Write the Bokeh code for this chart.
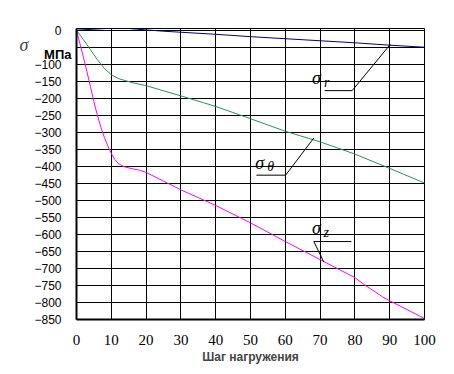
from bokeh.plotting import figure
from bokeh.models import Label, FixedTicker, LinearAxis
from bokeh.embed import file_html
from bokeh.resources import INLINE

# ---- data ----
steps_r = [0, 5, 10, 15, 20, 25, 30, 40, 50, 60, 70, 80, 90, 100]
sigma_r = [0, 3, 6, 5, 1, -3, -6, -12, -19, -25, -31, -37, -44, -50]

steps_t = [0, 2, 4, 6, 8, 10, 12, 14, 16, 20, 30, 40, 50, 60, 70, 80, 90, 100]
sigma_t = [0, -28, -57, -87, -112, -131, -142, -148, -154, -163, -193, -224,
           -260, -297, -328, -364, -406, -449]

steps_z = [0, 1, 2, 3, 4, 5, 6, 7, 8, 9, 10, 11, 12, 13, 14, 16, 18, 20,
           30, 40, 50, 60, 70, 80, 83, 86, 88, 90, 100]
sigma_z = [0, -40, -80, -122, -165, -210, -250, -285, -315, -340, -362, -380,
           -391, -398, -402, -407, -411, -418, -469, -515, -566, -621, -674,
           -727, -750, -770, -784, -795, -847]

x_ticks = [0, 10, 20, 30, 40, 50, 60, 70, 80, 90, 100]
y_ticks = list(range(0, -851, -50))
x_title = "Шаг нагружения"
y_symbol = "σ"
y_unit = "МПа"

W, H = 446, 366
p = figure(width=W, height=H, x_range=(0, 100), y_range=(-850, 5),
           output_backend="svg", toolbar_location=None,
           min_border_left=76, min_border_right=22, min_border_top=28,
           min_border_bottom=43)
p.background_fill_color = "white"
p.border_fill_color = "white"
p.outline_line_color = "black"
p.outline_line_width = 1

p.xaxis.ticker = FixedTicker(ticks=x_ticks)
p.yaxis.ticker = FixedTicker(ticks=y_ticks)
p.yaxis.major_label_overrides = {-50: ""}

for ax in (p.xaxis, p.yaxis):
    ax.axis_line_color = "black"
    ax.axis_line_width = 2
    ax.major_tick_line_color = None
    ax.minor_tick_line_color = None
    ax.major_label_text_color = "black"

p.xaxis.major_label_text_font = "Liberation Serif"
p.xaxis.major_label_text_font_size = "15px"
p.xaxis.major_label_standoff = 9
p.xaxis.axis_label = x_title
p.xaxis.axis_label_text_font = "Liberation Sans"
p.xaxis.axis_label_text_font_style = "bold"
p.xaxis.axis_label_text_font_size = "12px"
p.xaxis.axis_label_standoff = 2

p.yaxis.major_label_text_font = "Liberation Sans"
p.yaxis.major_label_text_font_size = "12px"
p.yaxis.major_label_standoff = 9
p.yaxis.axis_label = "\n" + y_symbol
p.yaxis.axis_label_orientation = "horizontal"
p.yaxis.axis_label_align = "end"
p.yaxis.axis_label_text_font = "Liberation Serif"
p.yaxis.axis_label_text_font_style = "italic"
p.yaxis.axis_label_text_font_size = "18px"
p.yaxis.axis_label_text_line_height = 1.6
p.yaxis.axis_label_standoff = 3

p.grid.grid_line_color = "black"
p.grid.grid_line_width = 1
p.grid.grid_line_alpha = 1.0

p.line(steps_r, sigma_r, line_color="#000080", line_width=1)
p.line(steps_t, sigma_t, line_color="#2a8f5e", line_width=1)
p.line(steps_z, sigma_z, line_color="#ff00ff", line_width=1)

# leader lines of the curve labels
p.line([71.3, 79.2, 90.2], [-177.6, -177.6, -41.4], line_color="black", line_width=1)
p.line([51.7, 60.1, 68.2], [-425.9, -425.9, -316.7], line_color="black", line_width=1)
p.line([68.2, 79.0], [-621, -621], line_color="black", line_width=1)
p.line([68.2, 71.1], [-621, -681.8], line_color="black", line_width=1)

def sig(x, y, sx, sy, sub):
    p.add_layout(Label(x=x, y=y, text="σ", text_font="Liberation Serif",
                       text_font_style="italic", text_font_size="18px",
                       text_color="black", text_baseline="alphabetic"))
    p.add_layout(Label(x=sx, y=sy, text=sub, text_font="Liberation Serif",
                       text_font_style="italic", text_font_size="14px",
                       text_color="black", text_baseline="alphabetic"))

sig(67.7, -139.9, 71.1, -153.5, "r")
sig(51.4, -389.0, 54.8, -400.7, "θ")
sig(67.7, -580.4, 71.0, -594.9, "z")

# bold unit label, drawn by a second (line-less) left axis
unit_axis = LinearAxis(ticker=FixedTicker(ticks=[-72]),
                       major_label_overrides={-72: y_unit},
                       axis_line_color=None, major_tick_line_color=None,
                       minor_tick_line_color=None, major_label_standoff=-61,
                       major_label_text_font="Liberation Sans",
                       major_label_text_font_style="bold",
                       major_label_text_font_size="13px",
                       major_label_text_color="black")
p.add_layout(unit_axis, "left")

open("out.html", "w").write(file_html(p, INLINE))
